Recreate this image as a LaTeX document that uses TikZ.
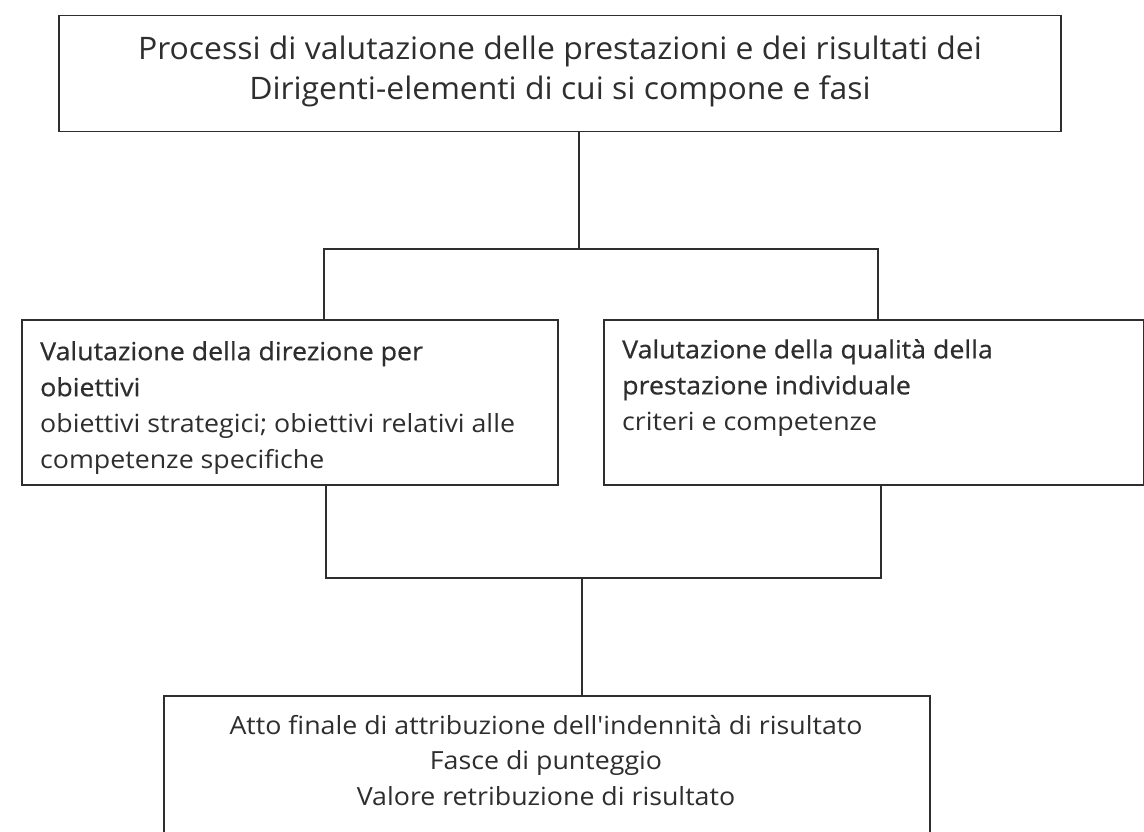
\documentclass[tikz,border=0pt]{standalone}
\usepackage{fontspec}
\setmainfont{Open Sans}
\newfontfamily\topfont{Open Sans}[FakeStretch=1.03]
\newfontfamily\boxfont{Open Sans}[FakeStretch=1.07]
\newfontfamily\boxfontb{Open Sans}[FakeStretch=1.07,FakeBold=0.6]
\usetikzlibrary{calc}
\definecolor{ink}{HTML}{2E2E2E}
\begin{document}
\begin{tikzpicture}[x=1pt,y=-1pt,
  boxline/.style={draw=ink,line width=1.5pt,rectangle,inner sep=0pt,anchor=north west},
  conn/.style={draw=ink,line width=1.3pt},
  txt/.style={text=ink,inner sep=0pt,font=\boxfont\fontsize{25}{36}\selectfont}]
\useasboundingbox[fill=white] (0,0) rectangle (1144,832);
% boxes
\node[boxline,minimum width=1002pt,minimum height=116pt] (top) at (58,15) {};
\node[boxline,minimum width=536pt,minimum height=165pt] (L) at (21,319) {};
\node[boxline,minimum width=540pt,minimum height=165pt] (R) at (603,319) {};
\node[boxline,minimum width=766pt,minimum height=170pt] (B) at (163,695) {};
% texts
\node[text=ink,inner sep=0pt,anchor=north,align=center,font=\topfont\fontsize{31}{40}\selectfont] (ttop) at (560,36)
  {Processi di valutazione delle prestazioni e dei risultati dei\\Dirigenti-elementi di cui si compone e fasi};
\node[txt,anchor=north west,align=left] (tL) at (40,341)
  {{\boxfontb Valutazione della direzione per}\\{\boxfontb obiettivi}\\obiettivi strategici; obiettivi relativi alle\\competenze specifiche};
\node[txt,anchor=north west,align=left] (tR) at (622,339)
  {{\boxfontb Valutazione della qualità della}\\{\boxfontb prestazione individuale}\\criteri e competenze};
\node[txt,anchor=north,align=center,font=\boxfont\fontsize{25}{35.5}\selectfont] (tB) at (546,715)
  {Atto finale di attribuzione dell'indennità di risultato\\Fasce di punteggio\\Valore retribuzione di risultato};
% junctions
\coordinate (j0) at (579,249);
\coordinate (jl) at (324,249);
\coordinate (jr) at (878,249);
\coordinate (kl) at (326,578);
\coordinate (kr) at (881,578);
\coordinate (km) at (582,578);
% connectors
\draw[conn] (top.south -| j0) -- (j0);
\draw[conn] (L.north -| jl) -- (jl) -- (jr) -- (R.north -| jr);
\draw[conn] (L.south -| kl) -- (kl) -- (kr) -- (R.south -| kr);
\draw[conn] (km) -- (B.north -| km);
\end{tikzpicture}
\end{document}
